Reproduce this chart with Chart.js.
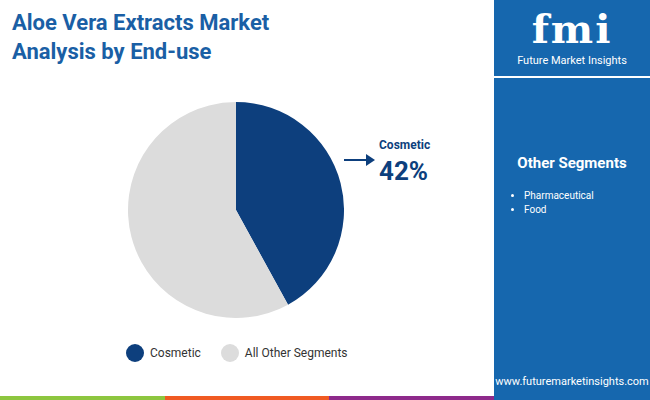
<!DOCTYPE html>
<html><head><meta charset="utf-8">
<script src="https://cdn.jsdelivr.net/npm/chart.js@4"></script>
<style>
body{margin:0;width:650px;height:400px;position:relative;overflow:hidden;font-family:Roboto,sans-serif;background:#fff}
#title{position:absolute;left:12px;top:8px;color:#1a5fa5;font-weight:700;font-size:22px;line-height:29px}
#side{position:absolute;left:494px;top:0;width:156px;height:400px;background:#1667ae}
#logo{position:absolute;left:0;top:0;width:156px;height:76px;border-bottom:2px solid #fff;text-align:center;color:#fff}
#logo .big{font-family:"DejaVu Serif",serif;font-size:40px;font-weight:700;line-height:42px;margin-top:8px;letter-spacing:2px}
#logo .small{font-size:11px;margin-top:4px}
#oth{position:absolute;left:0;width:156px;top:154px;text-align:center;color:#fff;font-weight:700;font-size:15px}
#side ul{position:absolute;left:0;top:189px;margin:0;padding-left:30px;color:#fff;font-size:10px;line-height:14px}
#web{position:absolute;left:0;width:156px;bottom:12px;text-align:center;color:#fff;font-size:11px}
#stripe{position:absolute;left:0;top:396px;height:4px;width:494px;display:flex}
#stripe div{flex:1}
#pie{position:absolute;left:128px;top:102px;width:216px;height:216px}
#lab{position:absolute;left:379px;top:138px;color:#0d3f7d;font-weight:700}
#arrow{position:absolute;left:344px;top:159px;width:26px;height:2px;background:#0d3f7d}
#arrowhead{position:absolute;left:366px;top:154px;border-left:9px solid #0d3f7d;border-top:6px solid transparent;border-bottom:6px solid transparent}
#legend{position:absolute;top:344px;left:126px;font-size:12px;color:#333;display:flex;align-items:center}
.dot{display:inline-block;width:18px;height:18px;border-radius:50%;margin-right:6px}
</style></head><body>
<div id="title">Aloe Vera Extracts Market<br>Analysis by End-use</div>
<div id="pie"><canvas id="c"></canvas></div>
<div id="arrow"></div><div id="arrowhead"></div>
<div id="lab"><div style="font-size:12px">Cosmetic</div><div style="font-size:26px;margin-top:4px">42%</div></div>
<div id="legend"><span class="dot" style="background:#0d3f7d"></span>Cosmetic<span class="dot" style="background:#dcdcdc;margin-left:20px"></span>All Other Segments</div>
<div id="side">
<div id="logo"><div class="big">fmi</div><div class="small">Future Market Insights</div></div>
<div id="oth">Other Segments</div>
<ul><li>Pharmaceutical</li><li>Food</li></ul>
<div id="web">www.futuremarketinsights.com</div>
</div>
<div id="stripe"><div style="background:#8dc63f"></div><div style="background:#f05a22"></div><div style="background:#8e2a8b"></div></div>
<script>
const segments = ['Cosmetic', 'All Other Segments'];
const shares = [42, 58];
const colors = ['#0d3f7d', '#dcdcdc'];

new Chart(document.getElementById('c').getContext('2d'), {
    type: 'pie',
    data: {
        labels: segments,
        datasets: [{ data: shares, backgroundColor: colors, borderWidth: 0 }]
    },
    options: {
        responsive: true,
        maintainAspectRatio: false,
        animation: false,
        plugins: { legend: { display: false }, tooltip: { enabled: false } }
    }
});
</script>
</body></html>
